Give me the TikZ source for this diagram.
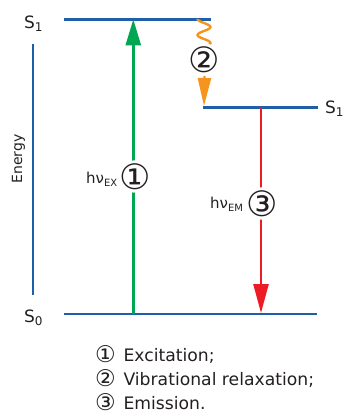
\documentclass[tikz,border=0pt]{standalone}
\usepackage{fontspec}
\setmainfont{DejaVu Sans}
\usetikzlibrary{arrows.meta}
\definecolor{lvblue}{HTML}{1F5FA8}
\definecolor{exgreen}{HTML}{00A651}
\definecolor{vrorange}{HTML}{F7941D}
\definecolor{emred}{HTML}{ED1C24}
\definecolor{txt}{HTML}{231F20}
\tikzset{
  level/.style={draw=lvblue, line width=2.4pt},
  lbl/.style={text=txt, inner sep=0pt, anchor=base west, font=\fontsize{17}{20}\selectfont},
  numlabel/.style={circle, fill=white, inner sep=-3pt, text=txt, font=\fontsize{35}{40}\selectfont},
  hnu/.style={text=txt, inner sep=0pt, anchor=base west, font=\fontsize{15}{18}\selectfont},
  legend/.style={text=txt, inner sep=0pt, anchor=base west, font=\fontsize{17.2}{20}\selectfont},
}
\newcommand{\sublbl}[2]{#1\raisebox{-0.35ex}{\fontsize{12}{14}\selectfont #2}}
\newcommand{\subhnu}[1]{hν\raisebox{-0.4ex}{\fontsize{10}{12}\selectfont #1}}
\newcommand{\lgnum}[1]{\raisebox{-0.06em}{\fontsize{23}{23}\selectfont #1}\hspace{0.45em}}
\begin{document}
\begin{tikzpicture}[x=1pt,y=-1pt]
\useasboundingbox (0,0) rectangle (344,416);
% levels
\coordinate (s1aL) at (64,19.3);  \coordinate (s1aR) at (211,19.3);
\coordinate (s1bL) at (203,107.3); \coordinate (s1bR) at (318,107.3);
\coordinate (s0L) at (64,313.7);  \coordinate (s0R) at (317,313.7);
\draw[level] (s1aL) -- (s1aR);
\draw[level] (s1bL) -- (s1bR);
\draw[level] (s0L) -- (s0R);
% energy axis
\coordinate (eTop) at (33,44); \coordinate (eBot) at (33,295);
\draw[draw=lvblue, line width=2.4pt] (eTop) -- (eBot);
\node[text=txt, rotate=90, font=\fontsize{14}{16}\selectfont, inner sep=0pt] (energy) at (18.5,159) {Energy};
% level labels
\node[lbl] (l1) at (24,28) {\sublbl{S}{1}};
\node[lbl] (l2) at (325,113) {\sublbl{S}{1}};
\node[lbl] (l0) at (24,322) {\sublbl{S}{0}};
% excitation
\coordinate (exB) at (133.3,313.7); \coordinate (exT) at (133.3,19.3);
\draw[exgreen, line width=2.4pt, -{Triangle[length=26pt,width=15pt]}] (exB) -- (exT);
% emission
\coordinate (emT) at (261,107.3); \coordinate (emB) at (261,313);
\draw[emred, line width=2.4pt, -{Triangle[length=29pt,width=15pt]}] (emT) -- (emB);
% vibrational relaxation
\draw[vrorange, line width=2.4pt] plot[domain=19:47, samples=60, smooth] ({204-6.5*cos(22.5*(\x-19))}, \x);
\node[numlabel] (c2) at (204.5,59.5) {②};
\coordinate (vrTip) at (204,106);
\draw[vrorange, line width=2.4pt, -{Triangle[length=28pt,width=13pt]}] (c2.south) -- (vrTip);
% numbered labels
\node[numlabel] (c1) at (135,176.5) {①};
\node[numlabel] (c3) at (262,203.5) {③};
\node[hnu] (hex) at (86,183) {\subhnu{EX}};
\node[hnu] (hem) at (210,208) {\subhnu{EM}};
% legend
\node[legend] (lg1) at (95,361) {\lgnum{①}Excitation;};
\node[legend] (lg2) at (95,385.5) {\lgnum{②}Vibrational relaxation;};
\node[legend] (lg3) at (95,409) {\lgnum{③}Emission.};
\end{tikzpicture}
\end{document}
